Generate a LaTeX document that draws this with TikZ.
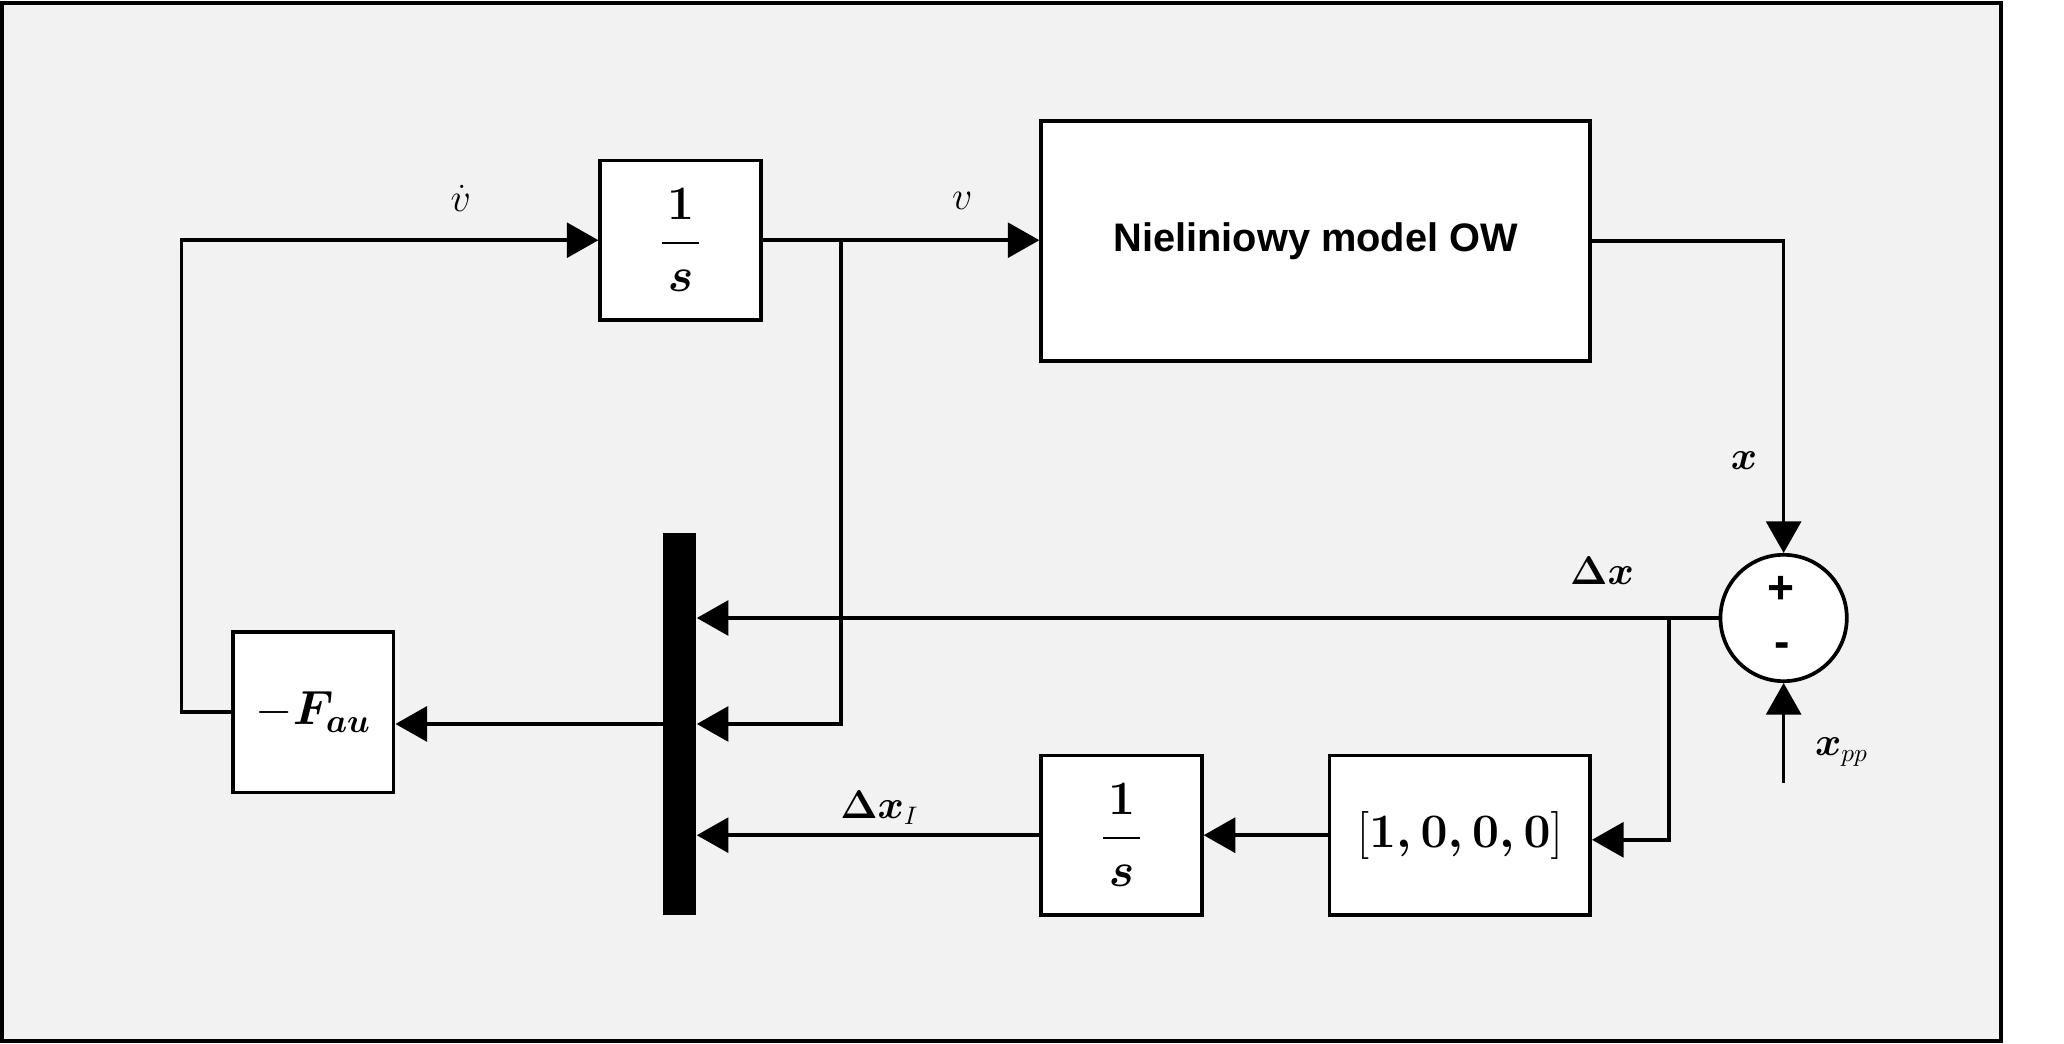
\documentclass[tikz,border=0pt]{standalone}
\usepackage{amsmath}
\usepackage{fontspec}
\usetikzlibrary{arrows.meta}

\newfontfamily\blocksf{Liberation Sans}
\definecolor{panelgray}{HTML}{F2F2F2}

\begin{document}
\begin{tikzpicture}[
    frame/.style={draw=black, line width=1.7pt, fill=panelgray},
    wire/.style={black, line width=1.5pt},
    sig/.style={wire, -{Triangle[length=0.48cm, width=0.53cm]}},
    block/.style={draw, line width=1.6pt, fill=white, inner sep=0pt},
    intblock/.style={block, minimum width=2.44cm, minimum height=2.42cm},
    sumnode/.style={circle, draw, line width=1.6pt, fill=white, minimum size=1.92cm, inner sep=0pt},
    muxbar/.style={fill=black, minimum width=0.5cm, minimum height=5.8cm, inner sep=0pt},
    lab/.style={font=\fontsize{16}{18}\selectfont},
    bigmath/.style={font=\fontsize{21}{24}\selectfont\boldmath},
    signtxt/.style={font=\blocksf\bfseries\fontsize{20}{22}\selectfont, inner sep=0pt}
]

% Page and panel
\useasboundingbox (0,0) rectangle (31.36,15.86);
\draw[frame] (0.03,0.04) rectangle (30.40,15.82);

% ============================================================
% Blocks
% ============================================================

\node[intblock, bigmath] (int1) at (10.34,12.21)
    {$\dfrac{\kern2pt 1\kern2pt}{s}$};
\node[block, minimum width=8.34cm, minimum height=3.64cm,
      font=\blocksf\bfseries\fontsize{17.2}{20}\selectfont] (model) at (19.99,12.20)
    {Nieliniowy model OW};
\node[sumnode] (sum) at (27.10,6.47) {};
\node[signtxt] (plus) at (27.06,6.90) {+};
\node[signtxt] (minus) at (27.08,5.98) {-};
\node[muxbar] (mux) at (10.33,4.86) {};
\node[block, minimum width=2.44cm, minimum height=2.44cm,
      font=\fontsize{21}{24}\selectfont] (fau) at (4.76,5.04)
    {$-\boldsymbol{F_{au}}$};
\node[intblock, bigmath] (int2) at (17.04,3.17)
    {$\dfrac{\kern2pt 1\kern2pt}{s}$};
\node[block, minimum width=3.96cm, minimum height=2.42cm, bigmath] (gain) at (22.18,3.17)
    {$\unboldmath[\boldsymbol{1,0,0,0}]$};

% Branch points and free ends
\coordinate (vbr) at (12.78,12.21);
\coordinate (dxbr) at (25.36,6.47);
\coordinate (loop) at (2.76,5.04);
\coordinate (xppin) at (27.10,3.96);

% ============================================================
% Connections
% ============================================================

\draw[sig] (int1.east) -- (int1.east -| model.west);
\draw[sig] (vbr) |- (mux.east);
\draw[sig] (model.east) -| (sum.north);
\draw[sig] (xppin) -- (sum.south);
\draw[sig] (sum.west) -- (sum.west -| mux.east);
\draw[sig] (dxbr) |- ([yshift=-0.07cm]gain.east);
\draw[sig] (gain.west) -- (int2.east);
\draw[sig] (int2.west) -- (int2.west -| mux.east);
\draw[sig] (mux.west) -- (mux.west -| fau.east);
\draw[sig] (fau.west) -- (loop) |- (int1.west);

% Signal labels
\node[lab] (lvdot) at (7.00,12.84) {$\dot{v}$};
\node[lab] (lv) at (14.62,12.80) {$v$};
\node[lab] (lx) at (26.50,8.86) {$\boldsymbol{x}$};
\node[lab] (ldx) at (24.34,7.18) {$\boldsymbol{\Delta x}$};
\node[lab] (ldxi) at (13.36,3.58) {$\boldsymbol{\Delta x}_{I}$};
\node[lab] (lxpp) at (27.98,4.44) {$\boldsymbol{x}_{pp}$};

\end{tikzpicture}
\end{document}
